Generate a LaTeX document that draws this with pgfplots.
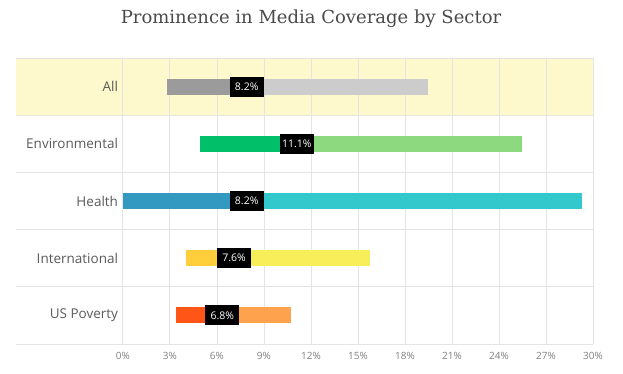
\documentclass[border=0pt]{standalone}
\usepackage{pgfplots}
\pgfplotsset{compat=1.18}
\usepackage{fontspec}
\setmainfont{Open Sans}
\newfontfamily\titlefont{DejaVu Serif}
\definecolor{band}{HTML}{FDF9CC}
\definecolor{gridc}{HTML}{E4E4E4}
\definecolor{labc}{HTML}{5A5A5A}
\definecolor{titc}{HTML}{4A4A4A}
\definecolor{tickc}{HTML}{808080}
\definecolor{allD}{HTML}{9B9B9B}
\definecolor{allL}{HTML}{CCCCCC}
\definecolor{envD}{HTML}{00BF68}
\definecolor{envL}{HTML}{8DD97F}
\definecolor{heaD}{HTML}{3399C1}
\definecolor{heaL}{HTML}{33C9CC}
\definecolor{intD}{HTML}{FFCE3A}
\definecolor{intL}{HTML}{F8EE5A}
\definecolor{povD}{HTML}{FF5516}
\definecolor{povL}{HTML}{FFA24E}
\begin{document}
\begin{tikzpicture}
\begin{axis}[
  set layers,
  at={(16pt,30pt)}, anchor=south west,
  width=577pt, height=286pt, scale only axis,
  xmin=-6.82, xmax=30, ymin=-0.5, ymax=4.5,
  y dir=reverse,
  axis line style={draw=none},
  xtick={0,3,...,30},
  xticklabel={\pgfmathprintnumber{\tick}\%},
  xticklabel style={font=\fontsize{10}{11}\selectfont, text=tickc, yshift=-5pt},
  /pgf/number format/assume math mode=true,
  ytick={-0.5,0.5,1.5,2.5,3.5,4.5},
  yticklabels={},
  major tick length=0pt,
  grid=major,
  major grid style={gridc, line width=0.8pt},
  clip=false,
]
\begin{pgfonlayer}{axis background}
\fill[band] (axis cs:-6.82,-0.5) rectangle (axis cs:30,0.5);
\end{pgfonlayer}
% All
\addplot[allD, line width=16pt] coordinates {(2.8,0) (7.9,0)};
\addplot[allL, line width=16pt] coordinates {(7.9,0) (19.5,0)};
% Environmental
\addplot[envD, line width=16pt] coordinates {(4.9,1) (11.1,1)};
\addplot[envL, line width=16pt] coordinates {(11.1,1) (25.45,1)};
% Health
\addplot[heaD, line width=16pt] coordinates {(0,2) (7.9,2)};
\addplot[heaL, line width=16pt] coordinates {(7.9,2) (29.3,2)};
% International
\addplot[intD, line width=16pt] coordinates {(4.0,3) (7.1,3)};
\addplot[intL, line width=16pt] coordinates {(7.1,3) (15.8,3)};
% US Poverty
\addplot[povD, line width=16pt] coordinates {(3.4,4) (6.35,4)};
\addplot[povL, line width=16pt] coordinates {(6.35,4) (10.7,4)};
\tikzset{lab/.style={fill=black, text=white, minimum width=34pt, minimum height=20pt, inner sep=0pt, font=\fontsize{10.5}{12}\selectfont}}
\node[lab] at (axis cs:7.9,0) {8.2\%};
\node[lab] at (axis cs:11.1,1) {11.1\%};
\node[lab] at (axis cs:7.9,2) {8.2\%};
\node[lab] at (axis cs:7.1,3) {7.6\%};
\node[lab] at (axis cs:6.35,4) {6.8\%};
\tikzset{cat/.style={anchor=east, text=labc, font=\fontsize{13.5}{15}\selectfont, inner sep=0pt}}
\node[cat] at (axis cs:-0.3,0) {All};
\node[cat] at (axis cs:-0.3,1) {Environmental};
\node[cat] at (axis cs:-0.3,2) {Health};
\node[cat] at (axis cs:-0.3,3) {International};
\node[cat] at (axis cs:-0.3,4) {US Poverty};
\end{axis}
\node[font=\titlefont\fontsize{18}{20}\selectfont, text=titc] at (311pt,355pt) {Prominence in Media Coverage by Sector};
\path (0,0) rectangle (623pt,374pt);
\end{tikzpicture}
\end{document}
